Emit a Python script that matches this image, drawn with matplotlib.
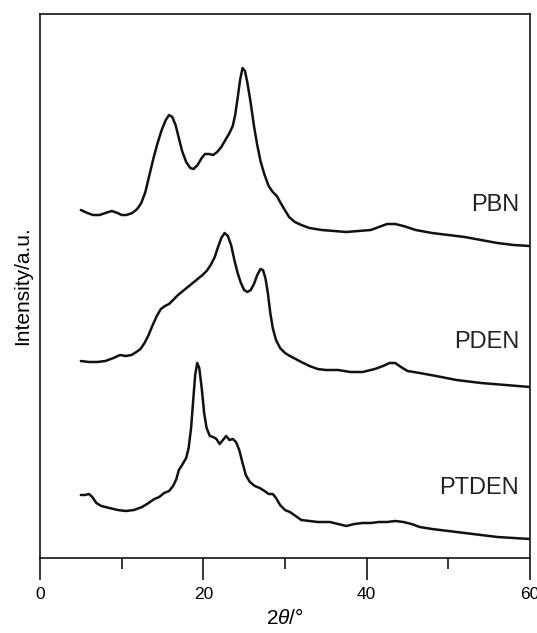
import matplotlib
matplotlib.use("Agg")
import matplotlib.pyplot as plt

plt.rcParams['font.family'] = ['Liberation Sans', 'DejaVu Sans']
plt.rcParams['mathtext.fontset'] = 'custom'
plt.rcParams['mathtext.rm'] = 'Liberation Sans'
plt.rcParams['mathtext.it'] = 'Liberation Sans:italic'

# 2theta (deg) and intensity (a.u., offset-stacked as in the figure)
pbn_x = [5.0, 5.8, 6.5, 7.3, 8.0, 8.8, 9.5, 10.0, 10.6, 11.3, 11.9, 12.4, 12.9, 13.4, 13.9,
         14.4, 14.9, 15.4, 15.8, 16.2, 16.6, 17.0, 17.4, 17.9, 18.4, 18.8, 19.3, 19.8, 20.2,
         20.7, 21.2, 21.7, 22.2, 22.7, 23.2, 23.6, 23.9, 24.2, 24.5, 24.8, 25.1, 25.4, 25.8,
         26.2, 26.6, 27.0, 27.5, 28.0, 28.5, 29.0, 29.4, 29.9, 30.5, 31.2, 32.0, 33.0, 34.5,
         36.0, 37.5, 39.0, 40.5, 41.5, 42.5, 43.5, 44.5, 46.0, 48.0, 50.0, 52.0, 54.0, 56.0,
         58.0, 60.0]
pbn_y = [348, 345, 343, 343, 345, 347, 345, 343, 343, 345, 349, 355, 366, 383, 400,
         415, 428, 438, 443, 441, 433, 420, 407, 396, 390, 389, 393, 400, 404,
         404, 403, 406, 411, 418, 425, 432, 443, 460, 478, 490, 487, 475, 455,
         432, 413, 397, 383, 372, 366, 362, 356, 349, 341, 336, 333, 330, 328,
         327, 326, 327, 328, 331, 334, 334, 332, 328, 325, 323, 321, 318, 315,
         313, 312]

pden_x = [5.0, 6.0, 7.0, 8.0, 9.0, 9.8, 10.5, 11.2, 11.8, 12.3, 12.8, 13.3, 13.8, 14.3,
          14.8, 15.3, 15.8, 16.3, 16.9, 17.5, 18.1, 18.7, 19.3, 19.9, 20.4, 20.9, 21.4,
          21.8, 22.2, 22.6, 23.0, 23.4, 23.8, 24.2, 24.6, 25.0, 25.4, 25.8, 26.2, 26.6,
          27.0, 27.3, 27.6, 27.9, 28.2, 28.5, 28.9, 29.4, 30.0, 30.6, 31.3, 32.0, 33.0,
          34.0, 35.0, 36.5, 38.0, 39.5, 41.0, 42.0, 42.8, 43.5, 44.2, 45.0, 46.5, 48.5,
          51.0, 54.0, 57.0, 60.0]
pden_y = [197, 196, 196, 197, 200, 203, 202, 203, 206, 209, 215, 223, 233, 242,
          249, 252, 254, 258, 263, 267, 271, 275, 279, 283, 287, 293, 301,
          311, 320, 325, 322, 313, 298, 285, 275, 268, 266, 268, 274, 283,
          289, 288, 280, 265, 245, 230, 218, 210, 205, 202, 199, 196, 192,
          189, 188, 188, 186, 186, 189, 192, 195, 195, 191, 187, 185, 182,
          178, 175, 173, 171]

ptden_x = [5.0, 5.5, 6.0, 6.4, 6.9, 7.5, 8.5, 9.5, 10.5, 11.5, 12.5, 13.3, 14.0, 14.6,
           15.2, 15.8, 16.3, 16.7, 17.0, 17.4, 17.9, 18.2, 18.5, 18.8, 19.0, 19.25, 19.5,
           19.8, 20.1, 20.4, 20.8, 21.2, 21.6, 22.0, 22.4, 22.8, 23.2, 23.6, 24.0, 24.4,
           24.8, 25.2, 25.7, 26.3, 26.9, 27.5, 28.0, 28.5, 28.9, 29.4, 30.0, 30.6, 31.3,
           32.0, 33.0, 34.0, 35.5, 36.5, 37.5, 38.5, 39.5, 40.5, 41.5, 42.5, 43.5, 44.5,
           45.5, 46.5, 48.0, 50.0, 52.0, 54.0, 56.0, 58.0, 60.0]
ptden_y = [63, 63, 64, 61, 55, 52, 50, 48, 47, 48, 51, 55, 59, 61,
           65, 67, 72, 79, 88, 93, 100, 110, 130, 162, 183, 195, 190,
           170, 145, 130, 122, 121, 119, 114, 118, 122, 118, 119, 116, 108,
           95, 83, 76, 72, 70, 67, 64, 64, 60, 53, 48, 46, 42,
           38, 37, 36, 36, 34, 32, 34, 35, 35, 36, 36, 37, 36,
           34, 31, 29, 27, 25, 23, 21, 20, 19]

names = ['PBN', 'PDEN', 'PTDEN']
label_y = [353, 216, 70]
major_ticks = [0, 20, 40, 60]
minor_ticks = [10, 30, 50]

fig = plt.figure(figsize=(5.37, 6.33), dpi=100)
ax = fig.add_axes([40/537, 75/633, 490/537, 544/633])

for xs, ys in [(pbn_x, pbn_y), (pden_x, pden_y), (ptden_x, ptden_y)]:
    ax.plot(xs, ys, color='#111111', lw=1.8, solid_joinstyle='round', solid_capstyle='round')

for name, ly in zip(names, label_y):
    ax.text(58.65, ly, name, ha='right', va='center', fontsize=17, color='#222222')

ax.set_xlim(0, 60)
ax.set_ylim(0, 544)
ax.set_xticks(major_ticks)
ax.set_xticks(minor_ticks, minor=True)
ax.set_yticks([])
ax.tick_params(axis='x', which='major', direction='out', length=16, width=1.1, labelsize=12.5, pad=5)
ax.tick_params(axis='x', which='minor', direction='out', length=8, width=1.1)
for s in ax.spines.values():
    s.set_linewidth(1.1)
ax.set_xlabel(r'2$\it{\theta}$/°', fontsize=15, labelpad=4)
ax.set_ylabel('Intensity/a.u.', fontsize=15, labelpad=6)

fig.savefig('out.png', dpi=100)
